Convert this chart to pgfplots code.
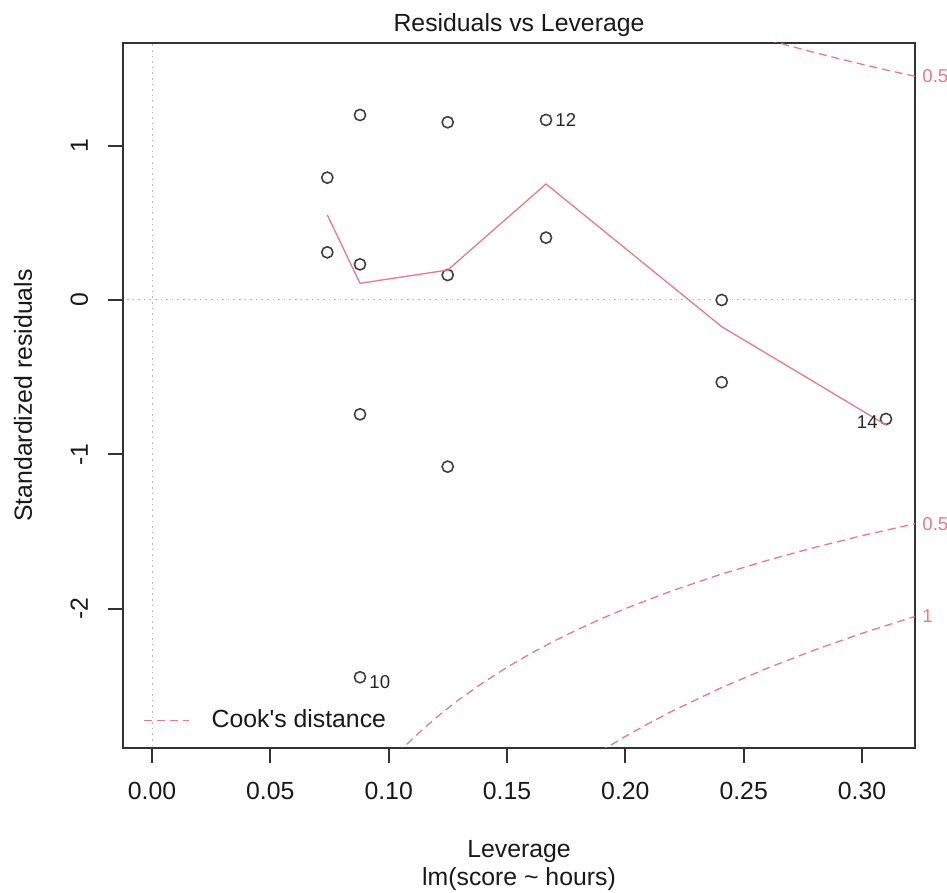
\documentclass[border=0pt]{standalone}
\usepackage{fontspec}
\setmainfont{Liberation Sans}
\usepackage{pgfplots}
\pgfplotsset{compat=1.18}
\definecolor{rred}{HTML}{E8798C}
\newcommand{\bigf}{\fontsize{12.4}{14.9}\selectfont}
\newcommand{\smallf}{\fontsize{9.3}{11}\selectfont}
\begin{document}
\bigf
\begin{tikzpicture}
\begin{axis}[name=ax,
  scale only axis, width=396pt, height=352.5pt,
  xmin=-0.012254, xmax=0.32239, ymin=-2.9034, ymax=1.6656,
  axis line style={black!80, line width=0.9pt},
  tick align=outside, major tick length=7.5pt,
  tick style={black!80, line width=0.9pt},
  xtick={0,0.05,0.1,0.15,0.2,0.25,0.3},
  xticklabels={0.00,0.05,0.10,0.15,0.20,0.25,0.30},
  ytick={-2,-1,0,1}, yticklabels={-2,-1,0,1},
  xtick pos=bottom, ytick pos=left,
  xticklabel style={anchor=base, font=\bigf, inner sep=0pt, black!90},
  yticklabel style={rotate=90, anchor=base, font=\bigf, inner sep=0pt, black!90},
  xticklabel shift=18.5pt, yticklabel shift=10pt,
  clip mode=individual,
  legend style={draw=none, fill=none, at={(rel axis cs:0,0)}, anchor=south west,
    xshift=10pt, yshift=6pt, inner sep=0pt, font=\bigf, column sep=0pt, text=black!90},
  legend cell align=left,
  legend image code/.code={\draw[#1] (0pt,0pt) -- (22.5pt,0pt);},
]
% reference lines
\addplot[gray!55, line width=0.5pt, dash pattern=on 0.8pt off 2pt, forget plot] coordinates {(-0.02,0) (0.33,0)};
\addplot[gray!55, line width=0.5pt, dash pattern=on 0.8pt off 2pt, forget plot] coordinates {(0,-3) (0,1.8)};
% points
\addplot[only marks, mark=o, mark size=2.8pt, black!75, mark options={line width=0.8pt}, forget plot] table {
x y
0.07407 0.793
0.07407 0.309
0.08789 1.199
0.08789 0.231
0.08789 -0.741
0.08789 -2.445
0.12494 1.152
0.12494 0.162
0.12494 -1.080
0.16648 1.167
0.16648 0.404
0.24072 0.000
0.24072 -0.533
0.31014 -0.771
};
% smoother
\addplot[rred, line width=0.65pt, forget plot] coordinates {(0.07407,0.551) (0.08789,0.108) (0.12494,0.194) (0.16648,0.752) (0.24072,-0.173) (0.31014,-0.810)};
% Cook's distance 0.5 (upper)
\addplot[rred, line width=0.65pt, dash pattern=on 4pt off 2.5pt, forget plot] coordinates {
(0.25,1.7321) (0.26,1.6871) (0.27,1.6443) (0.28,1.6036) (0.29,1.5648) (0.30,1.5275) (0.31,1.4918) (0.32239,1.4497)};
% Cook's distance 0.5 (lower)
\addplot[rred, line width=0.65pt, dash pattern=on 4pt off 2.5pt] coordinates {
(0.100,-3.0000) (0.105,-2.9196) (0.110,-2.8445) (0.115,-2.7741) (0.120,-2.7080) (0.125,-2.6458) (0.130,-2.5869) (0.140,-2.4785) (0.150,-2.3805) (0.160,-2.2913) (0.170,-2.2096) (0.180,-2.1344) (0.190,-2.0648) (0.200,-2.0000) (0.220,-1.8829) (0.240,-1.7795) (0.260,-1.6871) (0.280,-1.6036) (0.300,-1.5275) (0.32239,-1.4497)};
\addlegendentry{\hspace{9pt}Cook\textquotesingle s distance}
% Cook's distance 1 (lower)
\addplot[rred, line width=0.65pt, dash pattern=on 4pt off 2.5pt, forget plot] coordinates {
(0.180,-3.0185) (0.190,-2.9200) (0.200,-2.8284) (0.210,-2.7430) (0.220,-2.6629) (0.240,-2.5166) (0.260,-2.3858) (0.280,-2.2678) (0.300,-2.1602) (0.32239,-2.0502)};
% point labels
\node[anchor=west, inner sep=0pt, font=\smallf, black!85] at (axis cs:0.16648,1.167) [xshift=4.5pt] {12};
\node[anchor=west, inner sep=0pt, font=\smallf, black!85] at (axis cs:0.08789,-2.445) [xshift=4.5pt, yshift=-2.5pt] {10};
\node[anchor=east, inner sep=0pt, font=\smallf, black!85] at (axis cs:0.31014,-0.771) [xshift=-4pt, yshift=-1.75pt] {14};
% contour labels
\node[anchor=west, inner sep=0pt, font=\smallf, rred] at (axis cs:0.32239,1.4497) [xshift=3.5pt] {0.5};
\node[anchor=west, inner sep=0pt, font=\smallf, rred] at (axis cs:0.32239,-1.4497) [xshift=3.5pt] {0.5};
\node[anchor=west, inner sep=0pt, font=\smallf, rred] at (axis cs:0.32239,-2.0502) [xshift=3.5pt] {1};
\end{axis}
\node[anchor=base, black!90] at ([yshift=5.5pt]ax.north) {Residuals vs Leverage};
\node[anchor=base, black!90] at ([yshift=-55pt]ax.south) {Leverage};
\node[anchor=base, black!90] at ([yshift=-68.5pt]ax.south) {lm(score \textasciitilde{} hours)};
\node[rotate=90, anchor=base, black!90] at ([xshift=-45.5pt]ax.west) {Standardized residuals};
\pgfresetboundingbox
\path[use as bounding box] ([xshift=-61.5pt,yshift=-72.5pt]ax.south west) rectangle ([xshift=16pt,yshift=21.5pt]ax.north east);
\end{tikzpicture}
\end{document}
